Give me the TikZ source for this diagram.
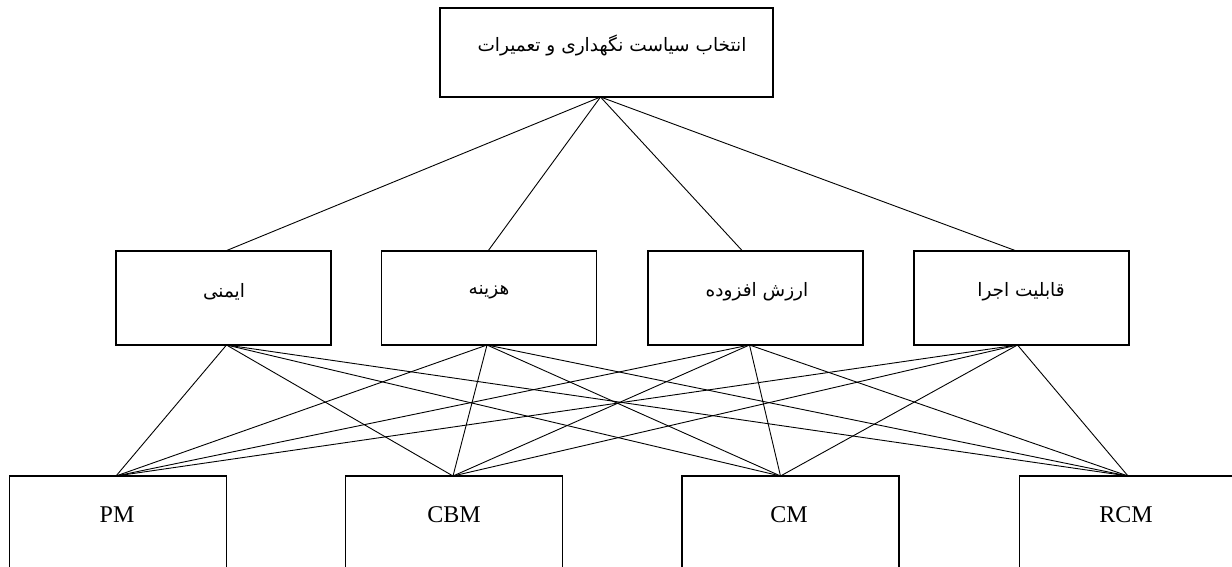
\documentclass[tikz,border=0pt]{standalone}
\usepackage{fontspec}
\setmainfont{Liberation Serif}
\newfontfamily\arabicfont[Script=Arabic]{DejaVu Sans}
\TeXXeTstate=1
\begin{document}
\begin{tikzpicture}[x=1pt,y=-1pt,
  box/.style={draw, line width=1.3pt, inner sep=0pt, outer sep=0pt},
  topbox/.style={box, minimum width=333pt, minimum height=89pt},
  midbox/.style={box, minimum width=215pt, minimum height=94pt},
  botbox/.style={box, minimum width=217pt, minimum height=106pt},
  fa/.style={font=\arabicfont\fontsize{18.5}{22}\selectfont, inner sep=0pt},
  en/.style={font=\fontsize{24}{27}\selectfont, inner sep=0pt},
  link/.style={line width=0.9pt}]
\useasboundingbox (0,0) rectangle (1232,567);
\clip (0,0) rectangle (1232,567);
\fill[white] (0,0) rectangle (1232,567);
% boxes
\node[topbox] (top) at (606.5,52.5) {};
\node[midbox] (m1) at (223.5,298) {};
\node[midbox] (m2) at (489,298) {};
\node[midbox] (m3) at (755.5,298) {};
\node[midbox] (m4) at (1021.5,298) {};
\node[botbox] (b1) at (118,529) {};
\node[botbox] (b2) at (454,529) {};
\node[botbox] (b3) at (790.5,529) {};
\node[botbox] (b4) at (1128,529) {};
% texts
\node[fa] (ttop) at (612,45) {\beginR انتخاب سیاست نگهداری و تعمیرات\endR};
\node[fa] (t1) at (224,292) {\beginR ایمنی\endR};
\node[fa] (t2) at (489,292) {\beginR هزینه\endR};
\node[fa] (t3) at (757,292) {\beginR ارزش افزوده\endR};
\node[fa] (t4) at (1021,292) {\beginR قابلیت اجرا\endR};
\node[en] (l1) at (117,515) {PM};
\node[en] (l2) at (454,515) {CBM};
\node[en] (l3) at (789,515) {CM};
\node[en] (l4) at (1126,515) {RCM};
% connection points
\coordinate (ts) at ([xshift=-6pt]top.south);
\coordinate (n1) at ([xshift=2pt]m1.north);
\coordinate (n2) at ([xshift=-1pt]m2.north);
\coordinate (n3) at ([xshift=-13pt]m3.north);
\coordinate (n4) at ([xshift=-5pt]m4.north);
\coordinate (s1) at ([xshift=3pt]m1.south);
\coordinate (s2) at ([xshift=-2pt]m2.south);
\coordinate (s3) at ([xshift=-6pt]m3.south);
\coordinate (s4) at ([xshift=-4pt]m4.south);
\coordinate (p1) at ([xshift=-2pt]b1.north);
\coordinate (p2) at ([xshift=-1pt]b2.north);
\coordinate (p3) at ([xshift=-10pt]b3.north);
\coordinate (p4) at (b4.north);
% connectors
\foreach \i in {1,2,3,4} {\draw[link] (ts) -- (n\i);}
\foreach \i in {1,2,3,4} {\foreach \j in {1,2,3,4} {\draw[link] (s\i) -- (p\j);}}
\end{tikzpicture}
\end{document}
